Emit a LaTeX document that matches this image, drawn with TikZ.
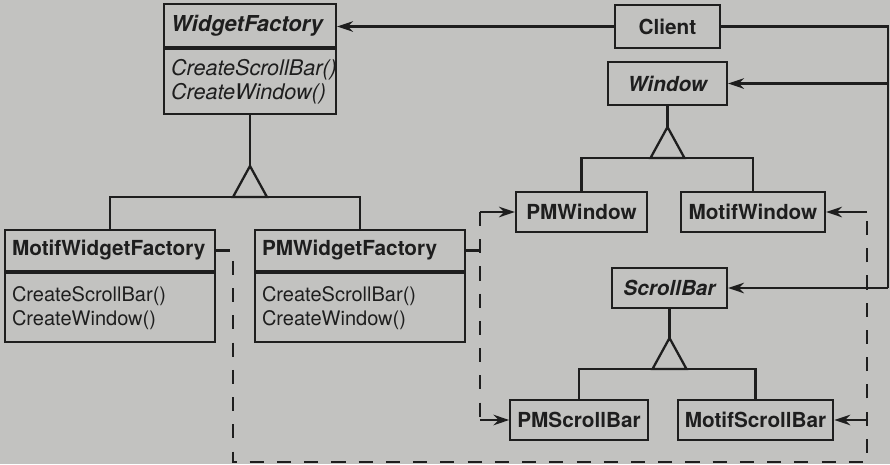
\documentclass[tikz,border=0pt]{standalone}
\usepackage{fontspec}
\setmainfont{TeX Gyre Heros}
\usepackage{tikz}
\usetikzlibrary{arrows.meta}
\definecolor{paper}{RGB}{194,194,192}
\definecolor{ink}{RGB}{30,30,30}
\tikzset{
  cls/.style={draw=ink, line width=1.3pt, text=ink, inner sep=4pt, minimum height=0.8cm,
    font=\fontsize{11.8}{13}\selectfont\bfseries},
  abscls/.style={cls, font=\fontsize{11.8}{13}\selectfont\bfseries\itshape},
  ops/.style={draw=ink, line width=1.3pt, text=ink, inner sep=4pt, align=left, anchor=north,
    font=\fontsize{11.4}{13.6}\selectfont},
  absops/.style={ops, font=\fontsize{12.3}{13.6}\selectfont\itshape},
  link/.style={draw=ink, line width=1.3pt},
  uses/.style={link, -{Stealth[length=9pt,width=6pt]}},
  creates/.style={link, line width=1.6pt, dash pattern=on 8pt off 7.5pt}
}

\begin{document}
\begin{tikzpicture}[x=0.02cm, y=-0.02cm]
  \useasboundingbox (0,0) rectangle (890,464);
  \fill[paper] (0,0) rectangle (890,464);

  \node[abscls, minimum width=3.44cm, minimum height=0.86cm, text width=3.16cm, align=left,
    font=\fontsize{12.5}{13}\selectfont\bfseries\itshape] (wf) at (250,25.5) {WidgetFactory};
  \node[absops, minimum width=3.44cm, minimum height=1.3cm, text width=3.16cm] (wfops) at (wf.south) {CreateScrollBar()\\CreateWindow()};

  \node[cls, minimum width=4.2cm, minimum height=0.82cm, text width=3.92cm, align=left] (mwf) at (110,250.5) {MotifWidgetFactory};
  \node[ops, minimum width=4.2cm, minimum height=1.38cm, text width=3.92cm] (mwfops) at (mwf.south) {CreateScrollBar()\\CreateWindow()};
  \node[cls, minimum width=4.2cm, minimum height=0.82cm, text width=3.92cm, align=left] (pmwf) at (360,250.5) {PMWidgetFactory};
  \node[ops, minimum width=4.2cm, minimum height=1.38cm, text width=3.92cm] (pmwfops) at (pmwf.south) {CreateScrollBar()\\CreateWindow()};

  \node[cls, minimum width=2.1cm, minimum height=0.86cm] (client) at (667.5,26.5) {Client};
  \node[abscls, minimum width=2.38cm, minimum height=0.86cm] (window) at (667.5,83.5) {Window};
  \node[cls, minimum width=2.62cm] (pmwin) at (581.5,212) {PMWindow};
  \node[cls, minimum width=2.88cm] (motifwin) at (753,212) {MotifWindow};
  \node[abscls, minimum width=2.3cm] (scrollbar) at (669.5,288) {ScrollBar};
  \node[cls, minimum width=2.52cm] (pmsb) at (579,420) {PMScrollBar};
  \node[cls, minimum width=3.1cm] (motifsb) at (755.5,420) {MotifScrollBar};

  \coordinate (wfapex) at (250,166);
  \coordinate (wfbase) at (250,197);
  \draw[link] (wfops.south) -- (wfapex);
  \draw[link] (wfapex) -- ++(-17,31) -- ++(34,0) -- cycle;
  \draw[link] (mwf.north) -- (mwf.north |- wfbase) -- (pmwf.north |- wfbase) -- (pmwf.north);

  \coordinate (winapex) at (667.5,127);
  \coordinate (winbase) at (667.5,158);
  \draw[link] (window.south) -- (winapex);
  \draw[link] (winapex) -- ++(-17,31) -- ++(34,0) -- cycle;
  \draw[link] (pmwin.north) -- (pmwin.north |- winbase) -- (motifwin.north |- winbase) -- (motifwin.north);

  \coordinate (sbapex) at (669.5,338);
  \coordinate (sbbase) at (669.5,369);
  \draw[link] (scrollbar.south) -- (sbapex);
  \draw[link] (sbapex) -- ++(-17,31) -- ++(34,0) -- cycle;
  \draw[link] (pmsb.north) -- (pmsb.north |- sbbase) -- (motifsb.north |- sbbase) -- (motifsb.north);

  \coordinate (rail) at (888,27);
  \draw[uses] (client.west) -- (client.west -| wf.east);
  \draw[link] (client.east) -- (client.east -| rail) -- (scrollbar.east -| rail);
  \draw[uses] (window.east -| rail) -- (window.east);
  \draw[uses] (scrollbar.east -| rail) -- (scrollbar.east);

  \coordinate (motifleft) at (233,462);
  \coordinate (motifright) at (867,462);
  \draw[creates] (mwf.east) -| (motifleft) -- (motifright) -- (motifright |- motifwin.east);
  \draw[uses] (motifright |- motifwin.east) -- (motifwin.east);
  \draw[uses] (motifright |- motifsb.east) -- (motifsb.east);

  \coordinate (pmrail) at (480,250);
  \draw[link] (pmwf.east) -- (pmwf.east -| pmrail);
  \draw[creates] (pmrail |- pmwin.west) -- (pmrail |- pmsb.west);
  \draw[uses] (pmrail |- pmwin.west) -- (pmwin.west);
  \draw[uses] (pmrail |- pmsb.west) -- (pmsb.west);
\end{tikzpicture}
\end{document}
